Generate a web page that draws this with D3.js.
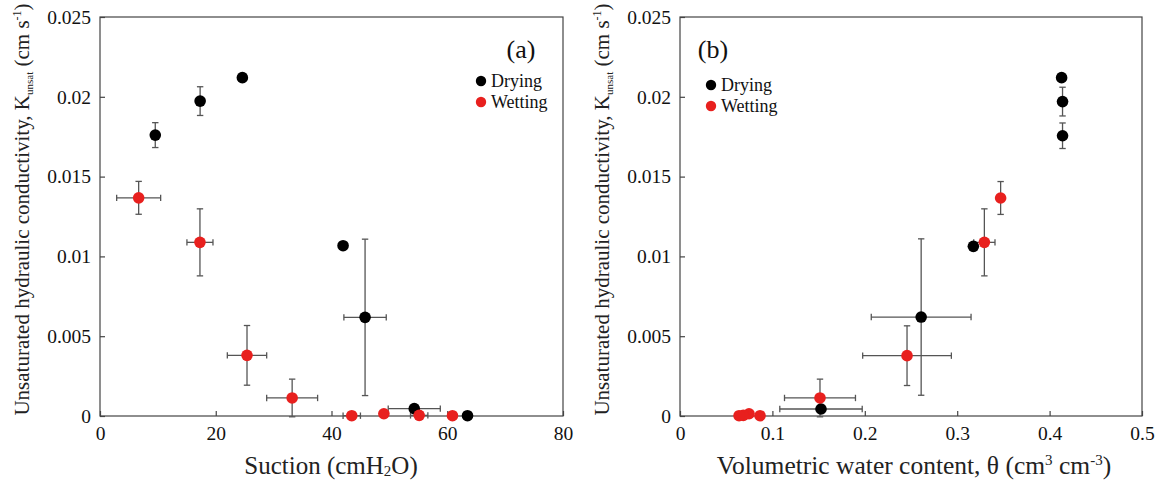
<!DOCTYPE html>
<html>
<head>
<meta charset="utf-8">
<script src="https://cdn.jsdelivr.net/npm/d3@7"></script>
<style>
  html, body { margin: 0; padding: 0; background: #fff; }
  svg { display: block; }
  svg text { font-family: 'Liberation Serif', 'Times New Roman', Tinos, 'DejaVu Serif', serif; }
</style>
</head>
<body>
<svg id="chart" width="1161" height="483"></svg>
<script>
// Unsaturated hydraulic conductivity, drying vs wetting branches

// Panel (a): K vs suction
const dryingSuction    = [9.55, 17.3, 24.6, 42.0, 45.8, 54.3, 63.5];
const dryingSuctionErr = [0, 0, 0, 0, 3.66, 4.5, 0];
const dryingK          = [0.0176, 0.01973, 0.0212, 0.01067, 0.00618, 0.00046, 0.00002];
const dryingKErr       = [0.00078, 0.0009, 0, 0, 0.0049, 0, 0];

const wettingSuction    = [6.68, 17.27, 25.4, 33.2, 43.5, 49.05, 55.15, 60.9];
const wettingSuctionErr = [3.8, 2.25, 3.4, 4.4, 1.5, 0, 1.5, 0];
const wettingK          = [0.01367, 0.01088, 0.0038, 0.00113, 0.00002, 0.00014, 0.00004, 0.00002];
const wettingKErr       = [0.00103, 0.0021, 0.00187, 0.00118, 0, 0, 0, 0];

// Panel (b): K vs volumetric water content
const dryingTheta    = [0.413, 0.414, 0.414, 0.3175, 0.261, 0.1526];
const dryingThetaErr = [0, 0, 0, 0, 0.054, 0.0446];
const dryingKb       = [0.0212, 0.0197, 0.01756, 0.01063, 0.0062, 0.00044];
const dryingKbErr    = [0, 0.0009, 0.0008, 0, 0.0049, 0];

const wettingTheta    = [0.347, 0.3294, 0.2457, 0.1515, 0.0866, 0.0747, 0.0685, 0.0639];
const wettingThetaErr = [0, 0.0115, 0.048, 0.0384, 0, 0, 0, 0];
const wettingKb       = [0.01366, 0.01088, 0.00378, 0.00113, 0.00002, 0.00014, 0.00004, 0.00002];
const wettingKbErr    = [0.00103, 0.0021, 0.00187, 0.00118, 0, 0, 0, 0];

const yTicks = [0, 0.005, 0.01, 0.015, 0.02, 0.025];
const yTickLabels = ["0", "0.005", "0.01", "0.015", "0.02", "0.025"];
const xTicksA = [0, 20, 40, 60, 80];
const xTicksB = [0, 0.1, 0.2, 0.3, 0.4, 0.5];
const xTickLabelsB = ["0", "0.1", "0.2", "0.3", "0.4", "0.5"];

const seriesNames = ["Drying", "Wetting"];
const seriesColors = ["#000000", "#e8201e"];

const serif = "'Liberation Serif', 'Times New Roman', Tinos, 'DejaVu Serif', serif";
const svg = d3.select("#chart").attr("font-family", serif);
const plotTop = 17, plotBottom = 416;

function zip(xs, xe, ys, ye) {
  return xs.map((x, i) => ({ x, xe: xe[i], y: ys[i], ye: ye[i] }));
}

function drawPanel(opt) {
  const x = d3.scaleLinear().domain(opt.xDomain).range([opt.left, opt.right]);
  const y = d3.scaleLinear().domain([0, 0.025]).range([plotBottom, plotTop]);
  const g = svg.append("g").attr("font-family", serif);

  // frame
  g.append("rect")
    .attr("x", opt.left).attr("y", plotTop)
    .attr("width", opt.right - opt.left).attr("height", plotBottom - plotTop)
    .attr("fill", "none").attr("stroke", "#444").attr("stroke-width", 1.2);

  // axes with inward ticks
  const xAxis = d3.axisBottom(x).tickValues(opt.xTicks)
    .tickFormat((d, i) => opt.xTickLabels[i]).tickSizeInner(-5).tickSizeOuter(0).tickPadding(10);
  const gx = g.append("g").attr("transform", `translate(0,${plotBottom})`).call(xAxis);
  const yAxis = d3.axisLeft(y).tickValues(yTicks)
    .tickFormat((d, i) => yTickLabels[i]).tickSizeInner(-5).tickSizeOuter(0).tickPadding(9);
  const gy = g.append("g").attr("transform", `translate(${opt.left},0)`).call(yAxis);
  [gx, gy].forEach(a => {
    a.attr("font-family", serif).attr("font-size", 19.5);
    a.select(".domain").remove();
    a.selectAll(".tick line").attr("stroke", "#444").attr("stroke-width", 1.2);
    a.selectAll(".tick text").attr("fill", "#111").attr("font-family", serif);
  });

  // error bars, then points (drying first, wetting on top)
  const eg = g.append("g").attr("stroke", "#555").attr("stroke-width", 1.3).attr("fill", "none");
  const cap = 3.2;
  opt.series.forEach(s => {
    s.data.forEach(d => {
      if (d.ye > 0) {
        const cx = x(d.x), y0 = y(d.y - d.ye), y1 = y(d.y + d.ye);
        eg.append("line").attr("x1", cx).attr("x2", cx).attr("y1", y0).attr("y2", y1);
        eg.append("line").attr("x1", cx - cap).attr("x2", cx + cap).attr("y1", y0).attr("y2", y0);
        eg.append("line").attr("x1", cx - cap).attr("x2", cx + cap).attr("y1", y1).attr("y2", y1);
      }
      if (d.xe > 0) {
        const cy = y(d.y), x0 = x(d.x - d.xe), x1 = x(d.x + d.xe);
        eg.append("line").attr("x1", x0).attr("x2", x1).attr("y1", cy).attr("y2", cy);
        eg.append("line").attr("x1", x0).attr("x2", x0).attr("y1", cy - cap).attr("y2", cy + cap);
        eg.append("line").attr("x1", x1).attr("x2", x1).attr("y1", cy - cap).attr("y2", cy + cap);
      }
    });
  });
  opt.series.forEach((s, si) => {
    g.append("g").selectAll("circle").data(s.data).join("circle")
      .attr("cx", d => x(d.x)).attr("cy", d => y(d.y)).attr("r", 5.8)
      .attr("fill", seriesColors[si]);
  });

  // panel tag
  g.append("text").attr("x", opt.tagX).attr("y", 58).attr("text-anchor", "middle")
    .attr("font-size", 26).attr("fill", "#111").text(opt.tag);

  // legend
  seriesNames.forEach((name, i) => {
    const ly = opt.legendY + i * 21;
    g.append("circle").attr("cx", opt.legendX).attr("cy", ly).attr("r", 5.2).attr("fill", seriesColors[i]);
    g.append("text").attr("x", opt.legendX + 10).attr("y", ly + 6)
      .attr("font-size", 18).attr("fill", "#111").text(name);
  });

  // y-axis title
  const yt = g.append("text")
    .attr("transform", `translate(${opt.left - 71},${(plotTop + plotBottom) / 2 - 7}) rotate(-90)`)
    .attr("text-anchor", "middle").attr("font-size", 21).attr("fill", "#222");
  yt.append("tspan").text("Unsaturated hydraulic conductivity, K");
  yt.append("tspan").attr("dy", 4).attr("font-size", 11).text("unsat");
  yt.append("tspan").attr("dy", -4).text(" (cm s");
  yt.append("tspan").attr("dy", -8).attr("font-size", 12).text("-1");
  yt.append("tspan").attr("dy", 8).text(")");

  // x-axis title
  const xt = g.append("text").attr("x", opt.titleX).attr("y", 474)
    .attr("text-anchor", "middle").attr("font-size", opt.titleSize).attr("fill", "#222");
  opt.xTitle(xt);
}

drawPanel({
  left: 100, right: 563, xDomain: [0, 80],
  xTicks: xTicksA, xTickLabels: xTicksA.map(String), titleX: 331, titleSize: 25,
  series: [
    { data: zip(dryingSuction, dryingSuctionErr, dryingK, dryingKErr) },
    { data: zip(wettingSuction, wettingSuctionErr, wettingK, wettingKErr) }
  ],
  tag: "(a)", tagX: 521, legendX: 481, legendY: 81,
  xTitle: t => {
    t.append("tspan").text("Suction (cmH");
    t.append("tspan").attr("dy", 2).attr("font-size", 15).text("2");
    t.append("tspan").attr("dy", -2).text("O)");
  }
});

drawPanel({
  left: 680, right: 1142, xDomain: [0, 0.5],
  xTicks: xTicksB, xTickLabels: xTickLabelsB, titleX: 914, titleSize: 25.5,
  series: [
    { data: zip(dryingTheta, dryingThetaErr, dryingKb, dryingKbErr) },
    { data: zip(wettingTheta, wettingThetaErr, wettingKb, wettingKbErr) }
  ],
  tag: "(b)", tagX: 713, legendX: 711, legendY: 85,
  xTitle: t => {
    t.append("tspan").text("Volumetric water content, θ (cm");
    t.append("tspan").attr("dy", -9).attr("font-size", 15).text("3");
    t.append("tspan").attr("dy", 9).text(" cm");
    t.append("tspan").attr("dy", -9).attr("font-size", 15).text("-3");
    t.append("tspan").attr("dy", 9).text(")");
  }
});
</script>
</body>
</html>
